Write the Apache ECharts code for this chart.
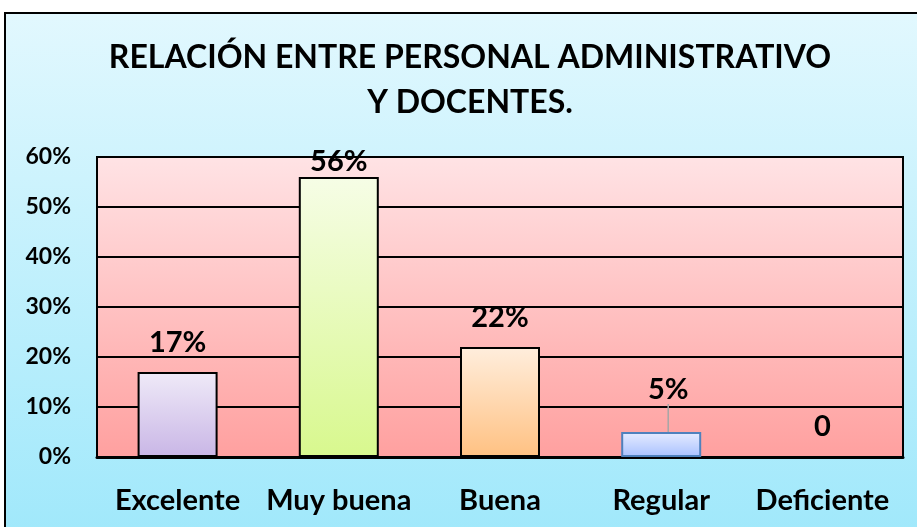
<!DOCTYPE html>
<html>
<head>
  <meta charset="utf-8">
  <script type="text/javascript" src="https://cdn.jsdelivr.net/npm/echarts@6/dist/echarts.min.js"></script>
  <style>
    body { margin: 0; background: #fff; }
    #chart { width: 917px; height: 527px; }
  </style>
</head>
<body>
  <div id="chart"></div>
  <script type="text/javascript">
    var titleText = 'RELACIÓN ENTRE PERSONAL ADMINISTRATIVO\nY DOCENTES.';
    var categories = ['Excelente', 'Muy buena', 'Buena', 'Regular', 'Deficiente'];
    var values = [0.17, 0.56, 0.22, 0.05, 0];
    var labels = ['17%', '56%', '22%', '5%', '0'];
    var yTicks = ['0%', '10%', '20%', '30%', '40%', '50%', '60%'];

    // bar colours: [top, bottom, border]
    var barColors = [
      ['#efeaf8', '#c9b6e6', '#000'],
      ['#f6fde6', '#d8f88e', '#000'],
      ['#ffeedd', '#ffc182', '#000'],
      ['#e6ecff', '#a9c1ff', '#4f81bd'],
      ['#ffffff', '#ffffff', '#000']
    ];
    // label nudges [dx, dy]
    var labelShift = [[0, -10], [0, 4], [0, -10], [7, -23], [0, -10]];

    function grad(top, bottom) {
      return new echarts.graphic.LinearGradient(0, 0, 0, 1, [
        { offset: 0, color: top },
        { offset: 1, color: bottom }
      ]);
    }

    var data = values.map(function (v, i) {
      var item = {
        value: v,
        itemStyle: {
          color: grad(barColors[i][0], barColors[i][1]),
          borderColor: barColors[i][2],
          borderWidth: 2
        }
      };
      if (i === 3) {
        item.labelLine = { show: true };
      }
      return item;
    });

    var chart = echarts.init(document.getElementById('chart'));
    var font = 'Lato, "Open Sans", sans-serif';
    chart.setOption({
      backgroundColor: 'transparent',
      graphic: [{
        type: 'rect',
        z: -10,
        silent: true,
        shape: { x: 5, y: 13, width: 930, height: 530 },
        style: {
          fill: grad('#e2f8fe', '#9fe8fb'),
          stroke: '#000',
          lineWidth: 2
        }
      }, {
        // title, centred on the chart area (which runs past the right edge)
        type: 'text',
        silent: true,
        x: 470,
        y: 35,
        style: {
          text: titleText,
          align: 'center',
          verticalAlign: 'top',
          fontFamily: font,
          fontWeight: 'bold',
          fontSize: 32,
          lineHeight: 45,
          fill: '#000'
        }
      }],
      grid: {
        left: 97,
        right: 14,
        top: 157,
        bottom: 70,
        show: true,
        backgroundColor: grad('#ffe3e5', '#ffa09f'),
        borderColor: '#000',
        borderWidth: 2
      },
      xAxis: {
        type: 'category',
        data: categories,
        axisTick: { show: false },
        axisLine: { lineStyle: { color: '#000', width: 3 } },
        axisLabel: {
          interval: 0,
          hideOverlap: false,
          margin: 29,
          fontFamily: font,
          fontWeight: 'bold',
          fontSize: 29,
          color: '#000'
        }
      },
      yAxis: {
        type: 'value',
        min: 0,
        max: 0.6,
        interval: 0.1,
        axisLine: { show: true, lineStyle: { color: '#000', width: 2 } },
        axisTick: { show: false },
        splitLine: { lineStyle: { color: '#000', width: 2 } },
        axisLabel: {
          margin: 26,
          fontFamily: font,
          fontWeight: 'bold',
          fontSize: 23,
          color: '#000',
          formatter: function (v) {
            return yTicks[Math.round(v * 10)];
          }
        }
      },
      series: [{
        type: 'bar',
        barWidth: 80,
        data: data,
        label: {
          show: true,
          position: 'top',
          fontFamily: font,
          fontWeight: 'bold',
          fontSize: 29,
          color: '#000',
          formatter: function (p) {
            return labels[p.dataIndex];
          }
        },
        labelLayout: function (p) {
          return { dx: labelShift[p.dataIndex][0], dy: labelShift[p.dataIndex][1] };
        },
        labelLine: {
          show: false,
          lineStyle: { color: '#a6a6a6', width: 1.5 }
        }
      }]
    });
  </script>
</body>
</html>
